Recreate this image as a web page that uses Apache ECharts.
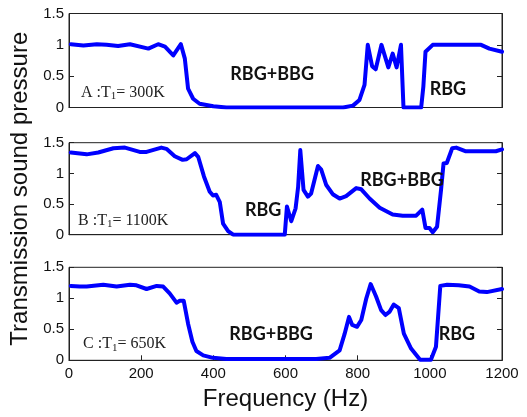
<!DOCTYPE html>
<html><head><meta charset="utf-8">
<script src="https://cdn.jsdelivr.net/npm/echarts@6/dist/echarts.min.js"></script>
<style>html,body{margin:0;padding:0;background:#fff}#c{width:527px;height:417px}</style>
</head><body><div id="c"></div><script>
// Panel A: T1 = 300K
const freqA = [5, 40, 77, 104, 136, 169, 220, 247, 266, 289, 310, 321, 330, 344, 362, 400, 436, 760, 787, 805, 819, 828, 840, 850, 866, 885, 897, 908, 920, 927, 976, 982, 988, 1008, 1027, 1142, 1165, 1200];
const valA  = [1.01, 0.99, 1.01, 1.0, 0.98, 1.01, 0.94, 1.01, 0.97, 0.83, 1.01, 0.78, 0.30, 0.14, 0.06, 0.02, 0.0, 0.0, 0.03, 0.12, 0.36, 1.0, 0.66, 0.61, 1.0, 0.64, 0.86, 0.64, 1.0, 0.0, 0.0, 0.33, 0.89, 1.0, 1.0, 1.0, 0.94, 0.89];
// Panel B: T1 = 1100K
const freqB = [5, 49, 81, 123, 155, 196, 215, 256, 270, 293, 315, 326, 349, 358, 374, 390, 399, 408, 418, 427, 441, 455, 598, 604, 616, 628, 635, 641, 650, 662, 671, 690, 699, 713, 731, 750, 768, 796, 810, 833, 861, 897, 925, 962, 979, 988, 999, 1008, 1020, 1031, 1038, 1047, 1062, 1073, 1100, 1147, 1183, 1200];
const valB  = [1.34, 1.31, 1.34, 1.41, 1.42, 1.35, 1.35, 1.42, 1.40, 1.28, 1.22, 1.23, 1.33, 1.27, 0.95, 0.70, 0.64, 0.65, 0.53, 0.18, 0.06, 0.0, 0.0, 0.46, 0.22, 0.43, 0.78, 1.38, 0.73, 0.62, 0.67, 1.12, 1.06, 0.81, 0.66, 0.59, 0.63, 0.76, 0.74, 0.59, 0.44, 0.33, 0.31, 0.31, 0.41, 0.11, 0.11, 0.04, 0.13, 0.73, 1.16, 1.17, 1.41, 1.42, 1.36, 1.36, 1.36, 1.39];
// Panel C: T1 = 650K
const freqC = [5, 30, 49, 95, 132, 169, 187, 215, 243, 261, 279, 298, 307, 318, 330, 342, 353, 372, 399, 436, 685, 722, 750, 764, 776, 785, 798, 810, 824, 836, 851, 865, 877, 888, 900, 914, 928, 948, 973, 1003, 1017, 1029, 1048, 1080, 1110, 1137, 1158, 1200];
const valC  = [1.20, 1.19, 1.19, 1.22, 1.19, 1.22, 1.21, 1.15, 1.20, 1.19, 1.08, 0.93, 0.96, 0.96, 0.59, 0.30, 0.15, 0.08, 0.04, 0.02, 0.02, 0.04, 0.16, 0.43, 0.70, 0.57, 0.54, 0.65, 1.0, 1.23, 1.03, 0.81, 0.73, 0.78, 0.90, 0.84, 0.43, 0.19, 0.01, 0.01, 0.22, 1.20, 1.22, 1.21, 1.19, 1.11, 1.10, 1.15];

const xTicks = [0, 200, 400, 600, 800, 1000, 1200];
const yTicks = [0, 0.5, 1, 1.5];

// Annotations: [text, freq, value]
const notesA = [["RBG+BBG", 563, 0.53], ["RBG", 1050, 0.29]];
const notesB = [["RBG", 538, 0.40], ["RBG+BBG", 923, 0.89]];
const notesC = [["RBG+BBG", 560, 0.42], ["RBG", 1075, 0.42]];
const panelLabels = [["A :T", "1", "= 300K", 33, 0.24], ["B :T", "1", "= 1100K", 25, 0.23], ["C :T", "1", "= 650K", 39, 0.26]];

const grids = [
  {left: 69, width: 433, top: 13.5, height: 94},
  {left: 69, width: 433, top: 142.7, height: 92},
  {left: 69, width: 433, top: 267.3, height: 93}
];

const sets = [[freqA, valA, notesA], [freqB, valB, notesB], [freqC, valC, notesC]];

const option = {
  animation: false,
  backgroundColor: '#fff',
  grid: grids.map(g => Object.assign({show: true, borderColor: '#222', borderWidth: 1, backgroundColor: 'transparent'}, g)),
  xAxis: grids.map((g, i) => ({
    type: 'value', gridIndex: i, min: 0, max: 1200, interval: 200,
    axisLine: {show: true, onZero: false, lineStyle: {color: '#222', width: 1}},
    axisTick: {show: i === 2, inside: true, length: 5, lineStyle: {color: '#222'}},
    axisLabel: {show: i === 2, color: '#111', fontSize: 15, fontFamily: 'Liberation Sans', margin: 6,
      formatter: v => xTicks.includes(v) ? String(v) : ''},
    splitLine: {show: false},
    name: i === 2 ? 'Frequency (Hz)' : '',
    nameLocation: 'middle', nameGap: 27,
    nameTextStyle: {fontSize: 24, fontFamily: 'Liberation Sans', color: '#111'}
  })),
  yAxis: grids.flatMap((g, i) => [
    {
      type: 'value', gridIndex: i, min: 0, max: 1.5, interval: 0.5, position: 'left',
      axisLine: {show: true, lineStyle: {color: '#222', width: 1}},
      axisTick: {show: true, inside: true, length: 5, lineStyle: {color: '#222'}},
      axisLabel: {color: '#111', fontSize: 15, fontFamily: 'Liberation Sans', margin: 5,
        formatter: v => yTicks.includes(v) ? String(v) : ''},
      splitLine: {show: false},
      name: i === 1 ? 'Transmission sound pressure' : '',
      nameLocation: 'middle', nameGap: 34,
      nameTextStyle: {fontSize: 24, fontFamily: 'Liberation Sans', color: '#111'}
    },
    {
      type: 'value', gridIndex: i, min: 0, max: 1.5, interval: 0.5, position: 'right',
      axisLine: {show: true, lineStyle: {color: '#222', width: 1}},
      axisTick: {show: true, inside: true, length: 5, lineStyle: {color: '#222'}},
      axisLabel: {show: false}, splitLine: {show: false}
    }
  ]),
  series: sets.map(([fx, fy, notes], i) => ({
    type: 'line', xAxisIndex: i, yAxisIndex: i * 2,
    data: fx.map((f, k) => [f, fy[k]]),
    showSymbol: false, symbol: 'none',
    lineStyle: {color: '#0000ff', width: 4, join: 'round', cap: 'round'},
    markPoint: {
      symbol: 'circle', symbolSize: 0, silent: true,
      data: notes.map(n => ({coord: [n[1], n[2]], value: n[0],
        label: {show: true, position: 'inside', formatter: n[0], color: '#111',
          fontSize: 18, fontWeight: 'bold', fontFamily: 'Lato'}}))
        .concat([{
          coord: [panelLabels[i][3], panelLabels[i][4]],
          label: {show: true, position: 'right', distance: 0,
            formatter: '{a|' + panelLabels[i][0] + '}{s|' + panelLabels[i][1] + '}{a|' + panelLabels[i][2] + '}',
            rich: {
              a: {fontSize: 16, fontFamily: 'Liberation Serif', color: '#222'},
              s: {fontSize: 11, fontFamily: 'Liberation Serif', color: '#222', padding: [8, 0, 0, 0]}
            }}
        }])
    }
  }))
};

const chart = echarts.init(document.getElementById('c'), null, {renderer: 'canvas'});
chart.setOption(option);
</script></body></html>
